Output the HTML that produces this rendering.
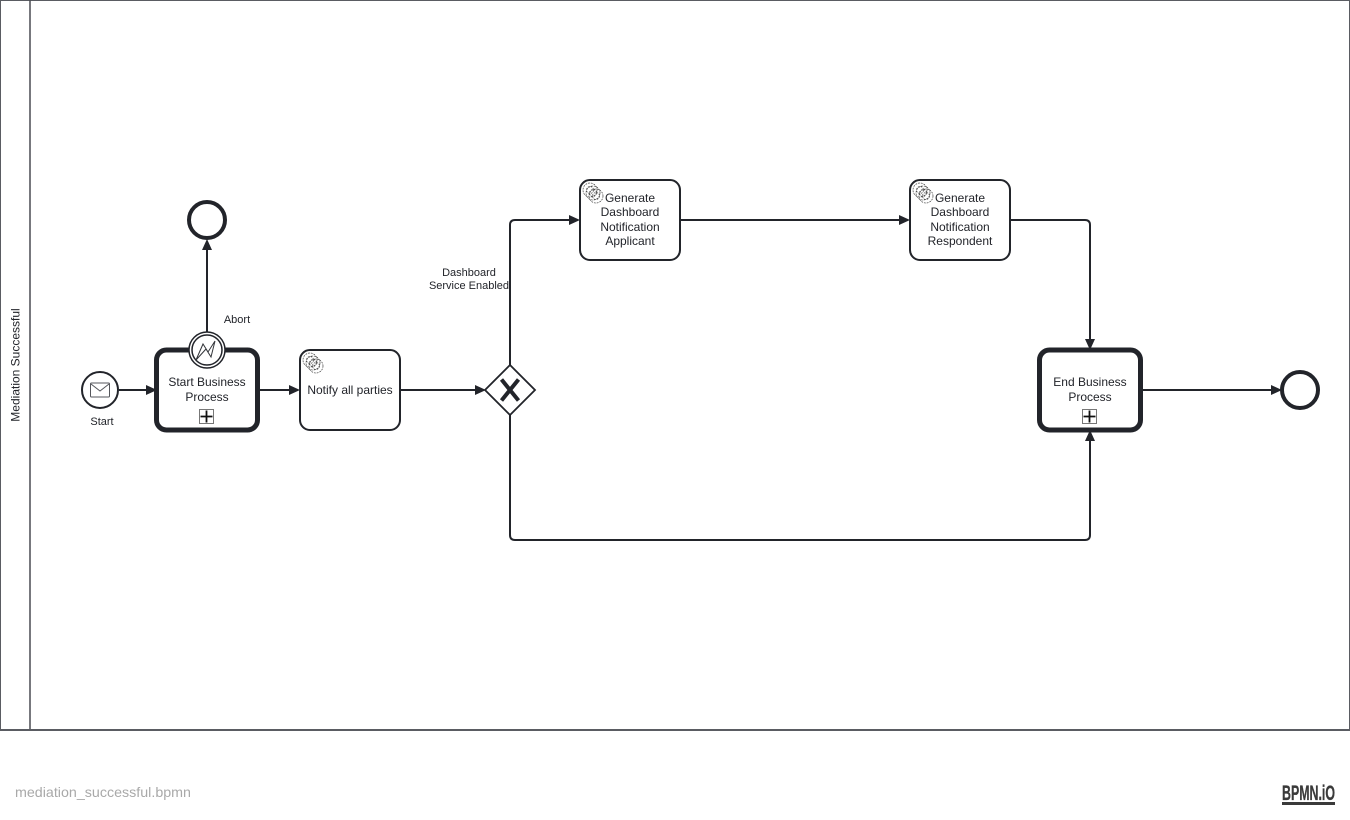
<!DOCTYPE html>
<html><head><meta charset="utf-8"><style>
html,body{margin:0;padding:0;background:#fff;width:1350px;height:820px;overflow:hidden}
svg{display:block}
text{font-family:"Liberation Sans",Arial,sans-serif;fill:#22242a}
.t{font-size:12px;text-anchor:middle}
.l{font-size:11px;text-anchor:middle}
.f{fill:none;stroke:#22242a;stroke-width:2;stroke-linejoin:round}
.a{fill:#22242a;stroke:none}
.g{fill:none;stroke:#444;stroke-width:.7;stroke-dasharray:1.8 1}
</style></head><body>
<svg width="1350" height="820" viewBox="0 0 1350 820" xmlns="http://www.w3.org/2000/svg">
<defs>
<g id="gear">
<circle class="g" cx="8" cy="8" r="7"/><circle class="g" cx="8" cy="8" r="3.500"/>
<circle class="g" cx="11" cy="11" r="7"/><circle class="g" cx="11" cy="11" r="3.500"/>
<circle class="g" cx="14" cy="14" r="7"/><circle class="g" cx="14" cy="14" r="3.500"/>
</g>
<g id="plus">
<rect x="0.5" y="0.5" width="14" height="14" fill="#fff" stroke="#777" stroke-width="1"/>
<path d="M7.5 1.500V13.500M1.500 7.500H13.500" stroke="#111" stroke-width="1.800" fill="none"/>
</g>
</defs>

<!-- pool -->
<rect x="0.5" y="0.5" width="1349" height="729" fill="#fff" stroke="#5a5c62" stroke-width="1"/>
<path d="M30 0V730" stroke="#4a4c52" stroke-width="1.500"/>
<path d="M0 730H1350" stroke="#5a5c62" stroke-width="2"/>
<text class="t" transform="translate(19.500 365) rotate(-90)">Mediation Successful</text>

<!-- connectors -->
<path class="f" d="M119 390H150"/><path class="a" d="M157 390l-11-5v10z"/>
<path class="f" d="M258 390H293"/><path class="a" d="M300 390l-11-5v10z"/>
<path class="f" d="M400 390H478"/><path class="a" d="M486 390l-11-5v10z"/>
<path class="f" d="M207 332V246"/><path class="a" d="M207 239l-5 11h10z"/>
<path class="f" d="M510 365V225q0-5 5-5H572"/><path class="a" d="M580 220l-11-5v10z"/>
<path class="f" d="M680 220H902"/><path class="a" d="M910 220l-11-5v10z"/>
<path class="f" d="M1010 220H1085q5 0 5 5V342"/><path class="a" d="M1090 350l-5-11h10z"/>
<path class="f" d="M510 415V535q0 5 5 5H1085q5 0 5-5V438"/><path class="a" d="M1090 430l-5 11h10z"/>
<path class="f" d="M1141 390H1274"/><path class="a" d="M1282 390l-11-5v10z"/>

<!-- start -->
<circle cx="100" cy="390" r="18" fill="#fff" stroke="#22242a" stroke-width="2"/>
<rect x="90.500" y="383" width="19" height="14" rx="1" fill="#fff" stroke="#55575c" stroke-width="1"/>
<path d="M91 384l9 7 9-7" fill="none" stroke="#55575c" stroke-width="1"/>
<text class="l" x="102" y="425">Start</text>

<!-- Start Business Process -->
<rect x="156.500" y="350" width="101" height="80" rx="10" fill="#fff" stroke="#22242a" stroke-width="5"/>
<text class="t"><tspan x="207" y="386">Start Business</tspan><tspan x="207" y="401">Process</tspan></text>
<use href="#plus" x="199" y="409"/>

<!-- boundary -->
<circle cx="207" cy="350" r="18" fill="#fff" stroke="#22242a" stroke-width="1.500"/>
<circle cx="207" cy="350" r="15" fill="#fff" stroke="#22242a" stroke-width="1.500"/>
<path d="M196 360L203 344L208 352L215 341L211 357L206 349Z" fill="none" stroke="#33353a" stroke-width="1"/>
<text class="l" x="237" y="323">Abort</text>

<!-- abort end -->
<circle cx="207" cy="220" r="18" fill="#fff" stroke="#22242a" stroke-width="4"/>

<!-- Notify -->
<rect x="300" y="350" width="100" height="80" rx="10" fill="#fff" stroke="#22242a" stroke-width="2"/>
<use href="#gear" x="302" y="352"/>
<text class="t" x="350" y="394">Notify all parties</text>

<!-- Gateway -->
<path d="M510 365L535 390L510 415L485 390Z" fill="#fff" stroke="#22242a" stroke-width="1.800"/>
<path d="M501.500 379.500L518.500 400.500M518.500 379.500L501.500 400.500" stroke="#22242a" stroke-width="4" fill="none"/>
<text class="l"><tspan x="469" y="276">Dashboard</tspan><tspan x="469" y="289">Service Enabled</tspan></text>

<!-- Task 1 -->
<rect x="580" y="180" width="100" height="80" rx="10" fill="#fff" stroke="#22242a" stroke-width="2"/>
<use href="#gear" x="582" y="182"/>
<text class="t"><tspan x="630" y="202">Generate</tspan><tspan x="630" y="216">Dashboard</tspan><tspan x="630" y="231">Notification</tspan><tspan x="630" y="245">Applicant</tspan></text>

<!-- Task 2 -->
<rect x="910" y="180" width="100" height="80" rx="10" fill="#fff" stroke="#22242a" stroke-width="2"/>
<use href="#gear" x="912" y="182"/>
<text class="t"><tspan x="960" y="202">Generate</tspan><tspan x="960" y="216">Dashboard</tspan><tspan x="960" y="231">Notification</tspan><tspan x="960" y="245">Respondent</tspan></text>

<!-- End Business Process -->
<rect x="1039.500" y="350" width="101" height="80" rx="10" fill="#fff" stroke="#22242a" stroke-width="5"/>
<text class="t"><tspan x="1090" y="386">End Business</tspan><tspan x="1090" y="401">Process</tspan></text>
<use href="#plus" x="1082" y="409"/>

<!-- End -->
<circle cx="1300" cy="390" r="18" fill="#fff" stroke="#22242a" stroke-width="4"/>

<!-- footer -->
<text x="15" y="797" textLength="176" lengthAdjust="spacingAndGlyphs" style="font-size:14px;fill:#a9a9a9">mediation_successful.bpmn</text>
<text x="1282" y="800" textLength="53" lengthAdjust="spacingAndGlyphs" style="font-size:21px;font-weight:bold;fill:#3a3a3a;stroke:#3a3a3a;stroke-width:.3">BPMN.iO</text>
<rect x="1282" y="802" width="53" height="3" fill="#3a3a3a"/>
</svg>
</body></html>
